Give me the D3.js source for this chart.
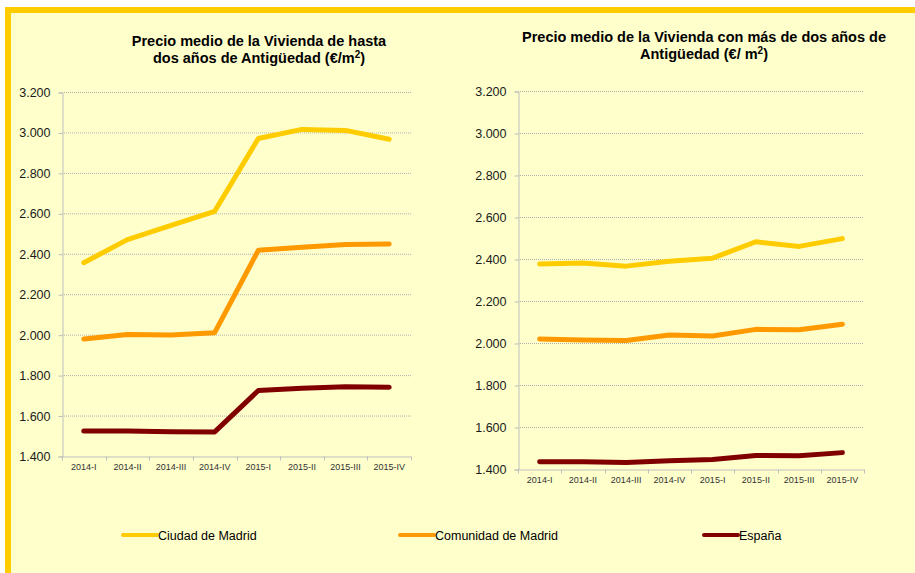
<!DOCTYPE html>
<html lang="es">
<head>
<meta charset="UTF-8">
<title>Precio medio de la Vivienda</title>
<style>
  body { margin: 0; background: #fff; }
  text { font-family: Arial, "Liberation Sans", sans-serif; }
</style>
</head>
<body>
<script src="https://d3js.org/d3.v7.min.js"></script>
<script>
// trimestres
let categories = ['2014-I', '2014-II', '2014-III', '2014-IV', '2015-I', '2015-II', '2015-III', '2015-IV'];
let seriesNames = ['Ciudad de Madrid', 'Comunidad de Madrid', 'España'];
let seriesColors = ['#FFCC00', '#FF9900', '#800000'];

// vivienda de hasta dos años
let ciudadNueva = [2356, 2470, 2540, 2610, 2970, 3015, 3010, 2966];
let comunidadNueva = [1979, 2001, 1998, 2010, 2417, 2432, 2446, 2448];
let espanaNueva = [1524, 1524, 1520, 1519, 1724, 1735, 1743, 1740];

// vivienda con más de dos años
let ciudadUsada = [2376, 2381, 2366, 2389, 2404, 2482, 2460, 2497];
let comunidadUsada = [2019, 2014, 2012, 2038, 2033, 2065, 2063, 2089];
let espanaUsada = [1435, 1434, 1431, 1439, 1445, 1464, 1463, 1478];

let yTicks = [1400, 1600, 1800, 2000, 2200, 2400, 2600, 2800, 3000, 3200];

let width = 915;
let height = 573;

let fmt = d3.formatLocale({ decimal: ',', thousands: '.', grouping: [3], currency: ['', '€'] }).format(',');

let svg = d3.select('body')
    .append('svg')
    .attr('width', width)
    .attr('height', height);

// marco amarillo
svg.append('rect')
    .attr('x', 5).attr('y', 7)
    .attr('width', width - 5).attr('height', height - 7)
    .attr('fill', '#FFCC00');
svg.append('rect')
    .attr('x', 11).attr('y', 13)
    .attr('width', width - 11).attr('height', height - 13)
    .attr('fill', '#FFFFCC');

function drawChart(opts) {
    let g = svg.append('g');

    let x = d3.scaleBand()
        .domain(categories)
        .range([opts.left, opts.right]);
    let y = d3.scaleLinear()
        .domain([1400, 3200])
        .range([opts.bottom, opts.top]);

    // título
    let title = g.append('text')
        .attr('x', opts.titleX)
        .attr('y', opts.titleY)
        .attr('text-anchor', 'middle')
        .attr('font-size', '14.5px')
        .attr('font-weight', 'bold')
        .attr('fill', '#000');
    opts.title.forEach(function(line, i) {
        title.append('tspan')
            .attr('x', opts.titleX)
            .attr('dy', i === 0 ? 0 : 16.5)
            .text(line.text);
        if (line.sup) {
            title.append('tspan')
                .attr('font-size', '10px')
                .attr('dy', -5)
                .text(line.sup);
            title.append('tspan')
                .attr('dy', 5)
                .text(line.after);
        }
    });

    // líneas de cuadrícula
    g.append('g')
        .selectAll('line')
        .data(yTicks.slice(1))
        .enter()
        .append('line')
        .attr('x1', opts.left)
        .attr('x2', opts.right)
        .attr('y1', function(d) { return y(d) + 0.5; })
        .attr('y2', function(d) { return y(d) + 0.5; })
        .attr('stroke', '#B0B0B0')
        .attr('stroke-width', 1)
        .attr('stroke-dasharray', '1,1');

    // eje y
    let yAxis = d3.axisLeft(y)
        .tickValues(yTicks)
        .tickFormat(fmt)
        .tickSize(4)
        .tickPadding(8);
    let ya = g.append('g')
        .attr('transform', 'translate(' + (opts.left + 0.5) + ',0.5)')
        .call(yAxis);
    ya.select('.domain').attr('stroke', '#BFBFBF');
    ya.selectAll('.tick line').attr('stroke', '#BFBFBF');
    ya.selectAll('.tick text')
        .attr('font-size', '12.5px')
        .attr('font-family', 'Arial, "Liberation Sans", sans-serif')
        .attr('fill', '#1a1a1a');

    // eje x
    let xAxis = d3.axisBottom(x)
        .tickSize(0)
        .tickPadding(opts.xPad);
    let xa = g.append('g')
        .attr('transform', 'translate(0,' + (opts.bottom + 0.5) + ')')
        .call(xAxis);
    xa.select('.domain').attr('stroke', '#BFBFBF');
    xa.selectAll('.tick text')
        .attr('font-size', '9px')
        .attr('font-family', 'Arial, "Liberation Sans", sans-serif')
        .attr('fill', '#333');
    // marcas entre categorías
    xa.append('g')
        .selectAll('line')
        .data(categories.concat(['fin']))
        .enter()
        .append('line')
        .attr('x1', function(d, i) { return Math.round(opts.left + i * x.step()) + 0.5; })
        .attr('x2', function(d, i) { return Math.round(opts.left + i * x.step()) + 0.5; })
        .attr('y1', 0)
        .attr('y2', 4)
        .attr('stroke', '#BFBFBF');

    // series
    let line = d3.line()
        .x(function(d, i) { return x(categories[i]) + x.bandwidth() / 2; })
        .y(function(d) { return y(d); });

    opts.series.forEach(function(s, i) {
        g.append('path')
            .attr('d', line(s))
            .attr('fill', 'none')
            .attr('stroke', seriesColors[i])
            .attr('stroke-width', 5)
            .attr('stroke-linecap', 'round')
            .attr('stroke-linejoin', 'round');
    });
}

drawChart({
    left: 62, right: 411, top: 92, bottom: 456, xPad: 7,
    titleX: 259, titleY: 46,
    title: [
        { text: 'Precio medio de la Vivienda de hasta' },
        { text: 'dos años de Antigüedad (€/m', sup: '2', after: ')' }
    ],
    series: [ciudadNueva, comunidadNueva, espanaNueva]
});

drawChart({
    left: 518, right: 864, top: 91, bottom: 469, xPad: 7,
    titleX: 704, titleY: 42,
    title: [
        { text: 'Precio medio de la Vivienda con más de dos años de' },
        { text: 'Antigüedad (€/ m', sup: '2', after: ')' }
    ],
    series: [ciudadUsada, comunidadUsada, espanaUsada]
});

// leyenda
let legendX = [123, 400, 704];
let legend = svg.append('g')
    .selectAll('g')
    .data(seriesNames)
    .enter()
    .append('g')
    .attr('transform', function(d, i) { return 'translate(' + legendX[i] + ',535)'; });
legend.append('line')
    .attr('x1', 0).attr('x2', 34)
    .attr('y1', 0).attr('y2', 0)
    .attr('stroke', function(d, i) { return seriesColors[i]; })
    .attr('stroke-width', 4)
    .attr('stroke-linecap', 'round');
legend.append('text')
    .attr('x', 35)
    .attr('y', 4.5)
    .attr('font-size', '12.5px')
    .attr('fill', '#000')
    .text(function(d) { return d; });
</script>
</body>
</html>
